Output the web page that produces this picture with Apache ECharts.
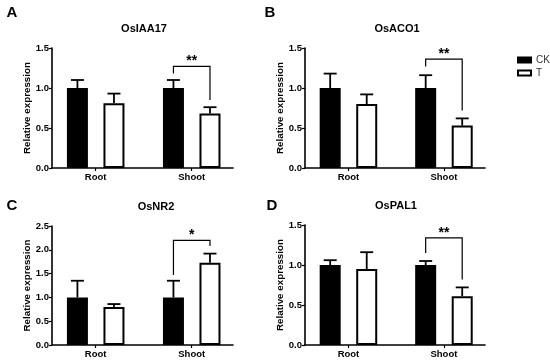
<!DOCTYPE html>
<html><head><meta charset="utf-8">
<script src="https://cdn.jsdelivr.net/npm/echarts@6/dist/echarts.min.js"></script>
<style>html,body{margin:0;padding:0;background:#fff}#c{width:550px;height:362px}</style>
</head><body><div id="c"></div>
<script>
const categories = ['Root', 'Shoot'];
const seriesNames = ['CK', 'T'];
const panelLetters = ['A', 'B', 'C', 'D'];
const geneNames = ['OsIAA17', 'OsACO1', 'OsNR2', 'OsPAL1'];
const yMax = [1.5, 1.5, 2.5, 1.5];
const yTicksStep = [0.5, 0.5, 0.5, 0.5];

// means and SD (upper error)
const ckMeanA = [1.00, 1.00], ckErrA = [0.10, 0.10], tMeanA = [0.81, 0.68], tErrA = [0.12, 0.08];
const ckMeanB = [1.00, 1.00], ckErrB = [0.18, 0.16], tMeanB = [0.80, 0.53], tErrB = [0.12, 0.09];
const ckMeanC = [1.00, 1.00], ckErrC = [0.35, 0.35], tMeanC = [0.80, 1.73], tErrC = [0.06, 0.19];
const ckMeanD = [1.00, 1.00], ckErrD = [0.06, 0.05], tMeanD = [0.95, 0.61], tErrD = [0.21, 0.11];

// significance brackets: [category index, top, left end, right end, label]
const sigA = [1, 1.27, 1.18, 0.85, '**'];
const sigB = [1, 1.36, 1.27, 0.72, '**'];
const sigC = [1, 2.20, 1.47, 2.08, '*'];
const sigD = [1, 1.34, 1.15, 0.82, '**'];

const ckMeans = [ckMeanA, ckMeanB, ckMeanC, ckMeanD];
const ckErrs = [ckErrA, ckErrB, ckErrC, ckErrD];
const tMeans = [tMeanA, tMeanB, tMeanC, tMeanD];
const tErrs = [tErrA, tErrB, tErrC, tErrD];
const sigs = [sigA, sigB, sigC, sigD];

const FONT = 'Liberation Sans, Arial, sans-serif';
const BAR_W = 21, BORDER = 2, GAP = 0.74;
const OFFSET = (BAR_W + BAR_W * GAP) / 2;

const grids = [
  {left: 52, top: 48, width: 181, height: 120},
  {left: 305, top: 48, width: 180, height: 120},
  {left: 52, top: 226, width: 181, height: 119},
  {left: 305, top: 225, width: 180, height: 120}
];
const titlePos = [[144, 29], [397, 29], [156, 207], [396, 206]];
const letterPos = [[12, 13], [270, 13], [12, 206], [272, 206]];

const xAxes = [], yAxes = [], series = [], graphics = [];
for (let p = 0; p < 4; p++) {
  xAxes.push({
    gridIndex: p, type: 'value', min: -0.455, max: 1.43,
    splitLine: {show: false},
    axisLine: {onZero: false, lineStyle: {color: '#000', width: 1.6}},
    axisTick: {customValues: [0, 1], length: 3, lineStyle: {color: '#000', width: 1.2}},
    axisLabel: {customValues: [0, 1], formatter: v => categories[Math.round(v)] || '',
      fontFamily: FONT, fontWeight: 'bold', fontSize: 9.5, color: '#000', margin: 4}
  });
  yAxes.push({
    gridIndex: p, type: 'value', min: 0, max: yMax[p], interval: yTicksStep[p],
    splitLine: {show: false},
    axisLine: {show: true, onZero: false, lineStyle: {color: '#000', width: 1.6}},
    axisTick: {show: true, length: 3, lineStyle: {color: '#000', width: 1.2}},
    axisLabel: {formatter: v => v.toFixed(1), fontFamily: FONT, fontWeight: 'bold', fontSize: 9.5, color: '#000', margin: 3},
    name: 'Relative expression', nameLocation: 'middle', nameGap: 20,
    nameTextStyle: {fontFamily: FONT, fontWeight: 'bold', fontSize: 9.8, color: '#000'}
  });
  const ckData = ckMeans[p].map((v, i) => [i, v]);
  const tData = tMeans[p].map((v, i) => [i, v]);
  series.push({
    type: 'bar', name: 'CK', xAxisIndex: p, yAxisIndex: p, data: ckData,
    barWidth: BAR_W, barGap: (GAP * 100) + '%',
    itemStyle: {color: '#000', borderColor: '#000', borderWidth: BORDER}, z: 3
  });
  series.push({
    type: 'bar', name: 'T', xAxisIndex: p, yAxisIndex: p, data: tData,
    barWidth: BAR_W, barGap: (GAP * 100) + '%',
    itemStyle: {color: '#fff', borderColor: '#000', borderWidth: BORDER}, z: 3
  });
  // error bars
  const errData = [];
  ckMeans[p].forEach((v, i) => errData.push([i, v, v + ckErrs[p][i], -1]));
  tMeans[p].forEach((v, i) => errData.push([i, v, v + tErrs[p][i], 1]));
  series.push({
    type: 'custom', xAxisIndex: p, yAxisIndex: p, data: errData, z: 2, silent: true,
    renderItem: (params, api) => {
      const side = api.value(3);
      const base = api.coord([api.value(0), api.value(1)]);
      const top = api.coord([api.value(0), api.value(2)]);
      const x = base[0] + side * OFFSET;
      return {type: 'group', children: [
        {type: 'line', shape: {x1: x, y1: base[1], x2: x, y2: top[1]}, style: {stroke: '#000', lineWidth: 1.8}},
        {type: 'line', shape: {x1: x - 6.5, y1: top[1], x2: x + 6.5, y2: top[1]}, style: {stroke: '#000', lineWidth: 1.8}}
      ]};
    }
  });
  // significance bracket
  series.push({
    type: 'custom', xAxisIndex: p, yAxisIndex: p, data: [sigs[p]], z: 4, silent: true,
    renderItem: (params, api) => {
      const c = api.value(0);
      const topP = api.coord([c, api.value(1)]);
      const lP = api.coord([c, api.value(2)]);
      const rP = api.coord([c, api.value(3)]);
      const xl = topP[0] - OFFSET, xr = topP[0] + OFFSET;
      return {type: 'group', children: [
        {type: 'polyline', shape: {points: [[xl, lP[1]], [xl, topP[1]], [xr, topP[1]], [xr, rP[1]]]},
          style: {stroke: '#000', lineWidth: 1.2, fill: null}},
        {type: 'text', style: {text: sigs[p][4], x: topP[0], y: topP[1] - 5, align: 'center', verticalAlign: 'middle',
          font: 'bold 14px ' + FONT, fill: '#000'}}
      ]};
    }
  });
  graphics.push({type: 'text', style: {text: geneNames[p], x: titlePos[p][0], y: titlePos[p][1],
    align: 'center', verticalAlign: 'middle', font: 'bold 11px ' + FONT, fill: '#000'}});
  graphics.push({type: 'text', style: {text: panelLetters[p], x: letterPos[p][0], y: letterPos[p][1],
    align: 'center', verticalAlign: 'middle', font: 'bold 15px ' + FONT, fill: '#000'}});
}

const chart = echarts.init(document.getElementById('c'), null, {renderer: 'canvas'});
chart.setOption({
  animation: false,
  backgroundColor: '#fff',
  grid: grids,
  xAxis: xAxes,
  yAxis: yAxes,
  series: series,
  graphic: graphics,
  legend: {
    data: seriesNames, orient: 'vertical', left: 512, top: 50, icon: 'rect',
    itemWidth: 13, itemHeight: 5, itemGap: 3,
    textStyle: {fontFamily: FONT, fontSize: 10, color: '#333'}
  }
});
</script>
</body></html>
